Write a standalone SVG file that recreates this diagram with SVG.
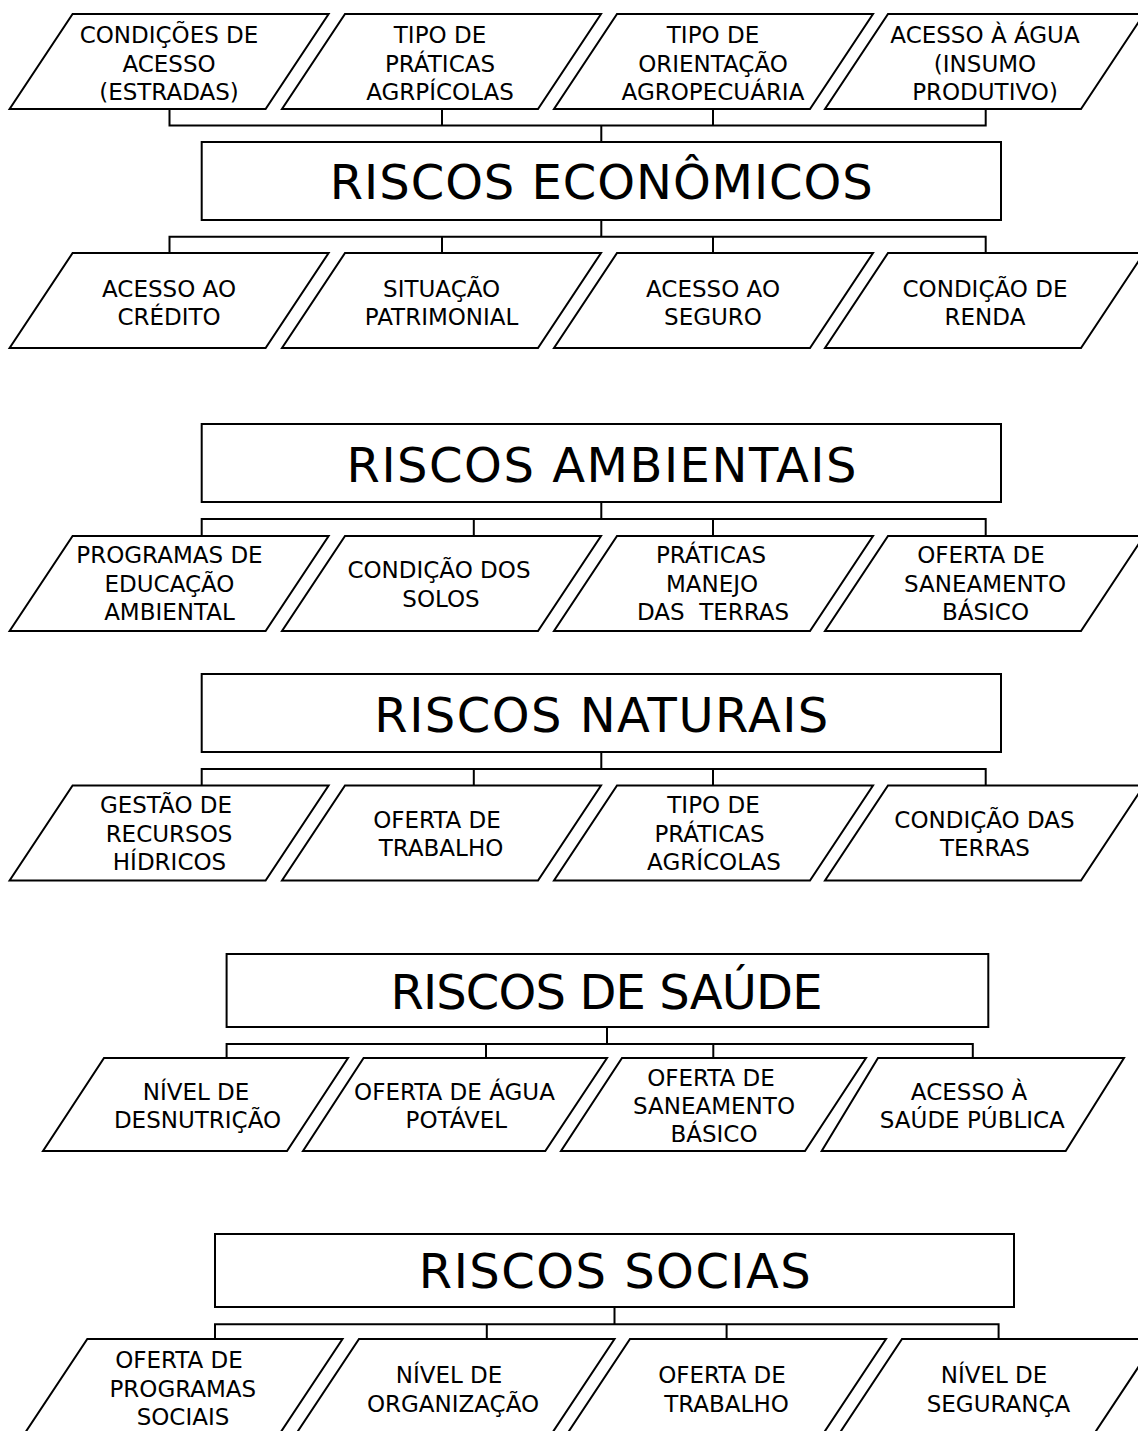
<svg xmlns="http://www.w3.org/2000/svg" width="1138" height="1431" viewBox="0 0 1138 1431">
<style>
.p{fill:#fff;stroke:#000;stroke-width:2;stroke-linejoin:miter}
.b{fill:#fff;stroke:#000;stroke-width:2}
.c{fill:none;stroke:#000;stroke-width:2}
.t{font-family:"DejaVu Sans","Liberation Sans",sans-serif;font-size:23px;fill:#000;text-anchor:middle;white-space:pre}
.h{font-family:"DejaVu Sans","Liberation Sans",sans-serif;font-size:48px;fill:#000;text-anchor:middle}
</style>
<rect width="1138" height="1431" fill="#fff"/>
<g id="connectors">
<path class="c" d="M169.5,109V125.5H985.7V109M442,109V125.5M713,109V125.5M601.3,125.5V142"/>
<path class="c" d="M601.3,220V236.7M169.5,253V236.7H985.7V253M442,236.7V253M713,236.7V253"/>
<path class="c" d="M601.3,502V519M201.7,536V519H985.7V536M473.8,519V536M713,519V536"/>
<path class="c" d="M601.3,752V769M201.7,785V769H985.7V785M473.8,769V785M713,769V785"/>
<path class="c" d="M607,1027V1044M226.6,1058V1044H972.8V1058M486,1044V1058M713.3,1044V1058"/>
<path class="c" d="M614.5,1307V1324.3M215,1339V1324.3H998.6V1339M486.8,1324.3V1339M726.6,1324.3V1339"/>
</g>
<g id="econ-in-1"><polygon class="p" points="72.6,14 328.6,14 265.6,109 9.6,109"/><text class="t" x="169" y="43">CONDIÇÕES DE</text><text class="t" x="169" y="71.5">ACESSO</text><text class="t" x="169" y="100">(ESTRADAS)</text></g>
<g id="econ-in-2"><polygon class="p" points="345,14 601,14 538,109 282,109"/><text class="t" x="440" y="43">TIPO DE</text><text class="t" x="440" y="71.5">PRÁTICAS</text><text class="t" x="440" y="100">AGRPÍCOLAS</text></g>
<g id="econ-in-3"><polygon class="p" points="617,14 873,14 810,109 554,109"/><text class="t" x="713" y="43">TIPO DE</text><text class="t" x="713" y="71.5">ORIENTAÇÃO</text><text class="t" x="713" y="100">AGROPECUÁRIA</text></g>
<g id="econ-in-4"><polygon class="p" points="888,14 1144,14 1081,109 825,109"/><text class="t" x="985" y="43">ACESSO À ÁGUA</text><text class="t" x="985" y="71.5">(INSUMO</text><text class="t" x="985" y="100">PRODUTIVO)</text></g>
<g id="riscos-economicos"><rect class="b" x="201.7" y="142" width="799.3" height="78"/><text class="h" x="601.3" y="199" textLength="543" lengthAdjust="spacing">RISCOS ECONÔMICOS</text></g>
<g id="econ-out-1"><polygon class="p" points="72.6,253 328.6,253 265.6,348 9.6,348"/><text class="t" x="169" y="297">ACESSO AO</text><text class="t" x="169" y="325">CRÉDITO</text></g>
<g id="econ-out-2"><polygon class="p" points="345,253 601,253 538,348 282,348"/><text class="t" x="441.6" y="297">SITUAÇÃO</text><text class="t" x="441.6" y="325">PATRIMONIAL</text></g>
<g id="econ-out-3"><polygon class="p" points="617,253 873,253 810,348 554,348"/><text class="t" x="713" y="297">ACESSO AO</text><text class="t" x="713" y="325">SEGURO</text></g>
<g id="econ-out-4"><polygon class="p" points="888,253 1144,253 1081,348 825,348"/><text class="t" x="985" y="297">CONDIÇÃO DE</text><text class="t" x="985" y="325">RENDA</text></g>
<g id="riscos-ambientais"><rect class="b" x="201.7" y="424" width="799.3" height="78"/><text class="h" x="601.5" y="482" textLength="510" lengthAdjust="spacing">RISCOS AMBIENTAIS</text></g>
<g id="amb-1"><polygon class="p" points="72.6,536 328.6,536 265.6,631 9.6,631"/><text class="t" x="169.5" y="563.3">PROGRAMAS DE</text><text class="t" x="169.5" y="591.7">EDUCAÇÃO</text><text class="t" x="169.5" y="620">AMBIENTAL</text></g>
<g id="amb-2"><polygon class="p" points="345,536 601,536 538,631 282,631"/><text class="t" x="439" y="578.3">CONDIÇÃO DOS</text><text class="t" x="441" y="606.7">SOLOS</text></g>
<g id="amb-3"><polygon class="p" points="617,536 873,536 810,631 554,631"/><text class="t" x="711" y="563.3">PRÁTICAS</text><text class="t" x="712" y="591.7">MANEJO</text><text class="t" x="713" y="620" xml:space="preserve">DAS  TERRAS</text></g>
<g id="amb-4"><polygon class="p" points="888,536 1144,536 1081,631 825,631"/><text class="t" x="981" y="563.3">OFERTA DE</text><text class="t" x="985" y="591.7">SANEAMENTO</text><text class="t" x="985.5" y="620">BÁSICO</text></g>
<g id="riscos-naturais"><rect class="b" x="201.7" y="674" width="799.3" height="78"/><text class="h" x="601.3" y="732" textLength="454" lengthAdjust="spacing">RISCOS NATURAIS</text></g>
<g id="nat-1"><polygon class="p" points="72.6,785.5 328.6,785.5 265.6,880.5 9.6,880.5"/><text class="t" x="166" y="813.3">GESTÃO DE</text><text class="t" x="169" y="841.7">RECURSOS</text><text class="t" x="169.5" y="870">HÍDRICOS</text></g>
<g id="nat-2"><polygon class="p" points="345,785.5 601,785.5 538,880.5 282,880.5"/><text class="t" x="437" y="827.5">OFERTA DE</text><text class="t" x="441" y="856">TRABALHO</text></g>
<g id="nat-3"><polygon class="p" points="617,785.5 873,785.5 810,880.5 554,880.5"/><text class="t" x="713.5" y="813.3">TIPO DE</text><text class="t" x="709.5" y="841.7">PRÁTICAS</text><text class="t" x="714" y="870">AGRÍCOLAS</text></g>
<g id="nat-4"><polygon class="p" points="888,785.5 1144,785.5 1081,880.5 825,880.5"/><text class="t" x="984.5" y="827.5">CONDIÇÃO DAS</text><text class="t" x="985" y="856">TERRAS</text></g>
<g id="riscos-saude"><rect class="b" x="226.6" y="954" width="761.7" height="73"/><text class="h" x="606.5" y="1008.5" textLength="432" lengthAdjust="spacing">RISCOS DE SAÚDE</text></g>
<g id="saude-1"><polygon class="p" points="104,1058 348,1058 287,1151 43,1151"/><text class="t" x="196" y="1100">NÍVEL DE</text><text class="t" x="197.5" y="1128">DESNUTRIÇÃO</text></g>
<g id="saude-2"><polygon class="p" points="363.6,1058 607,1058 545.3,1151 303,1151"/><text class="t" x="454.5" y="1100">OFERTA DE ÁGUA</text><text class="t" x="456.4" y="1128">POTÁVEL</text></g>
<g id="saude-3"><polygon class="p" points="622,1058 866,1058 805,1151 561,1151"/><text class="t" x="711" y="1086">OFERTA DE</text><text class="t" x="714" y="1114">SANEAMENTO</text><text class="t" x="714" y="1142">BÁSICO</text></g>
<g id="saude-4"><polygon class="p" points="878,1058 1124,1058 1065.7,1151 821.7,1151"/><text class="t" x="969" y="1100">ACESSO À</text><text class="t" x="972.3" y="1128">SAÚDE PÚBLICA</text></g>
<g id="riscos-socias"><rect class="b" x="215" y="1234" width="799" height="73"/><text class="h" x="614.8" y="1288" textLength="392" lengthAdjust="spacing">RISCOS SOCIAS</text></g>
<g id="soc-1"><polygon class="p" points="87.3,1339 342.5,1339 279.5,1434 24.3,1434"/><text class="t" x="179" y="1368.3">OFERTA DE</text><text class="t" x="182.8" y="1396.7">PROGRAMAS</text><text class="t" x="183" y="1425">SOCIAIS</text></g>
<g id="soc-2"><polygon class="p" points="359,1339 614.5,1339 551.5,1434 296,1434"/><text class="t" x="449" y="1383.3">NÍVEL DE</text><text class="t" x="453" y="1411.7">ORGANIZAÇÃO</text></g>
<g id="soc-3"><polygon class="p" points="630,1339 886,1339 823,1434 567,1434"/><text class="t" x="722" y="1383.3">OFERTA DE</text><text class="t" x="726.5" y="1411.7">TRABALHO</text></g>
<g id="soc-4"><polygon class="p" points="902,1339 1157,1339 1094,1434 839,1434"/><text class="t" x="994" y="1383.3">NÍVEL DE</text><text class="t" x="998.5" y="1411.7">SEGURANÇA</text></g>
</svg>
